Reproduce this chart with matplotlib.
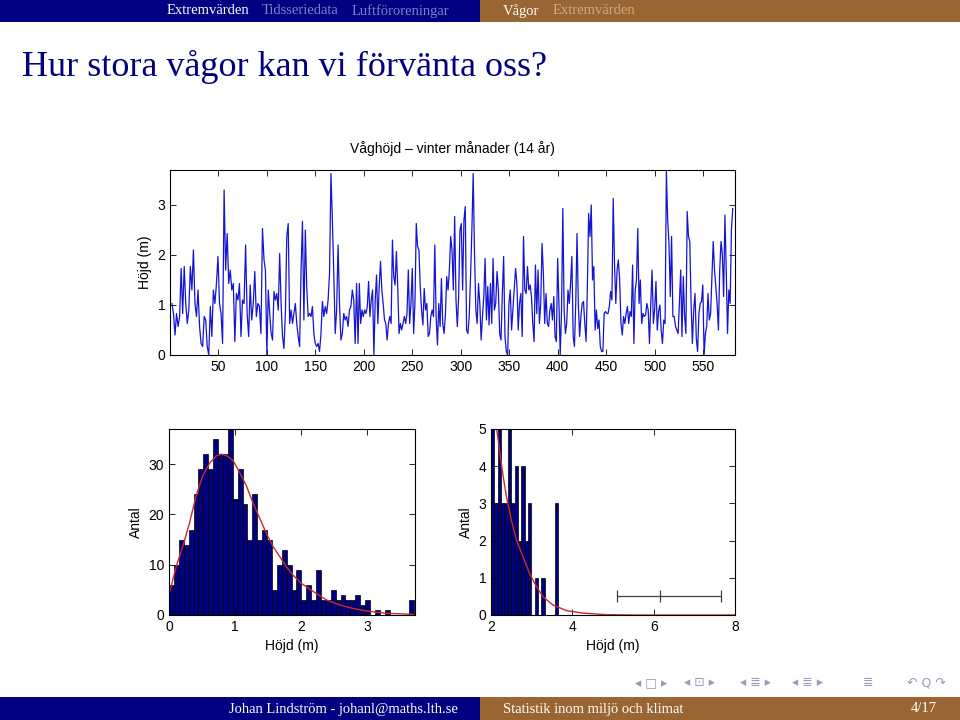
import numpy as np
import matplotlib
matplotlib.use('Agg')
import matplotlib.pyplot as plt
from matplotlib.patches import Rectangle

wave_part1 = [1.03, 0.83, 0.40, 0.83, 0.57, 0.77, 1.73, 0.83, 1.77, 1.03, 0.63, 0.90, 1.77, 1.30, 2.10,
              1.03, 0.77, 1.30, 0.57, 0.23, 0.17, 0.77, 0.70, 0.17, 0.00, 0.97, 0.37, 1.30, 1.03, 1.43,
              1.97, 1.03, 0.83, 0.23, 3.30, 1.70, 2.43, 1.43, 1.70, 1.30, 1.43, 0.27, 1.23, 1.10, 1.43,
              0.37, 1.10, 1.03, 2.20, 0.83, 0.37, 1.40, 0.70, 1.03, 1.67, 0.77, 1.03, 0.97, 0.43, 2.53]
wave_part2 = [1.90, 1.70, 0.00, 1.30, 0.83, 0.43, 0.30, 1.27, 1.10, 1.23, 0.90, 2.03, 1.03, 0.37, 0.13,
              0.83, 2.37, 2.63, 0.63, 0.90, 0.63, 0.83, 1.03, 0.63, 0.37, 0.17, 1.70, 2.67, 0.70, 2.50,
              1.37, 0.77, 0.83, 0.77, 0.97, 0.43, 0.23, 0.17, 0.23, 0.07, 0.43, 1.07, 0.77, 0.97, 0.83,
              1.10, 1.63, 3.63, 2.70, 1.63, 0.43, 0.90, 2.20, 1.03, 0.30, 0.43, 0.83, 0.70, 0.77, 0.57,
              0.90, 0.97, 1.30, 1.10, 0.23, 1.43]
wave_part3 = [0.23, 1.43, 0.63, 0.90, 0.77, 0.90, 0.83, 0.97, 1.47, 0.77, 1.10, 1.30, 0.00, 1.10, 1.60,
              0.63, 1.37, 1.87, 1.30, 1.03, 0.70, 0.63, 0.30, 0.63, 0.77, 0.63, 2.30, 1.57, 1.40, 2.07,
              1.37, 0.43, 0.63, 0.50, 0.63, 0.77, 0.63, 0.83, 1.70, 0.63, 1.03, 1.73, 0.43, 1.03, 2.63,
              2.17, 2.10, 1.37, 0.90, 0.60, 1.33, 0.90, 1.03, 0.37, 0.43, 0.77, 0.90, 0.77, 2.20, 0.77,
              0.20, 1.03, 0.57, 1.53, 0.63, 0.43, 0.80, 1.57, 1.30, 1.70, 2.37]
wave_part4 = [2.10, 1.30, 2.77, 1.10, 0.57, 1.17, 2.50, 2.63, 1.30, 2.70, 2.97, 0.50, 0.43, 0.77, 1.57,
              2.50, 3.63, 2.03, 0.90, 0.63, 1.43, 1.03, 0.30, 0.77, 1.17, 1.93, 0.70, 1.37, 0.60, 1.43,
              0.63, 1.93, 0.90, 1.03, 1.67, 1.30, 0.43, 0.30, 1.23, 1.97, 0.37, 0.07, 0.00, 1.03, 1.30,
              0.50, 0.90, 1.30, 1.73, 1.43, 0.50, 1.03, 1.23, 0.37, 2.37, 1.30, 1.23, 1.77, 1.30, 1.40,
              1.17, 0.63, 0.27, 1.80, 0.83, 1.70, 0.63, 1.03, 2.23, 1.63, 0.63]
wave_part5 = [1.23, 0.63, 0.57, 0.90, 1.03, 0.70, 1.17, 0.37, 0.27, 1.93, 1.03, 0.00, 0.90, 2.93, 0.90,
              0.43, 0.63, 1.30, 1.03, 1.43, 1.97, 0.37, 0.17, 1.03, 2.43, 1.03, 0.37, 0.77, 1.03, 1.07,
              0.63, 0.27, 1.37, 2.83, 2.37, 3.00, 1.50, 1.77, 0.50, 0.90, 0.53, 0.70, 0.17, 0.07, 0.07,
              0.83, 0.87, 0.83, 0.83, 0.97, 1.27, 1.10, 3.13, 1.83, 1.03, 1.70, 1.90, 1.50, 0.63, 0.40,
              0.77, 0.63, 0.83, 0.97, 0.63, 0.87, 0.77, 1.80, 0.23, 1.30, 1.50, 2.53]
wave_part6 = [1.03, 1.50, 0.63, 0.83, 0.77, 0.80, 1.03, 0.90, 0.23, 1.03, 1.70, 0.63, 0.90, 1.47, 0.50,
              0.87, 1.00, 0.50, 0.23, 0.70, 0.63, 3.67, 2.70, 2.23, 1.17, 2.37, 0.77, 0.77, 0.57, 0.50,
              0.43, 1.03, 1.70, 0.37, 1.57, 0.77, 0.43, 2.87, 2.37, 2.27, 1.03, 0.23, 0.90, 1.23, 0.33,
              0.07, 0.83, 1.03, 1.07, 1.40, 0.00, 0.43, 0.57, 1.23, 0.70, 0.83, 1.57, 2.27, 1.70, 1.37,
              1.03, 0.50, 1.70, 2.27, 2.03, 1.17, 2.80, 1.70, 0.43, 1.30, 1.03, 2.50, 2.93]
part_start = [2, 97, 194, 291, 388, 484]
part_end = [97, 194, 291, 388, 484, 582]

# histogram of all heights, 50 bins from 0 to 3.706 m
hist_counts = [6, 10, 15, 14, 17, 24, 29, 32, 29, 35, 32, 32, 37, 23, 29, 22, 15, 24, 15, 17,
               15, 5, 10, 13, 10, 5, 9, 3, 6, 3, 9, 3, 3, 5, 3, 4, 3, 3, 4, 2,
               3, 0, 1, 0, 1, 0, 0, 0, 0, 3]
hist_range = (0.0, 3.706)
fit_x = [0.0, 0.11, 0.21, 0.31, 0.41, 0.51, 0.62, 0.72, 0.79, 0.87, 0.97, 1.07, 1.17, 1.27,
         1.37, 1.47, 1.57, 1.67, 1.77, 1.87, 2.0, 2.18, 2.38, 2.58, 2.78, 3.04, 3.29, 3.69]
fit_y = [4.0, 9.7, 13.7, 18.3, 23.7, 27.7, 30.3, 31.7, 32.0, 31.7, 30.7, 28.3, 25.7, 22.3,
         19.3, 16.3, 13.7, 11.7, 9.7, 8.0, 6.3, 4.7, 3.0, 2.0, 1.3, 0.7, 0.33, 0.13]

# tail: heights above 2 m, 20 bins
tail_counts = [7, 3, 10, 3, 3, 6, 3, 4, 2, 4, 2, 3, 0, 1, 0, 1, 0, 0, 0, 3]
tail_range = (2.0, 3.655)
tail_fit_x = [2.08, 2.14, 2.22, 2.30, 2.38, 2.50, 2.63, 2.79, 2.95, 3.12, 3.28, 3.52, 3.85, 4.26, 4.83, 5.5, 8.0]
tail_fit_y = [5.6, 5.0, 4.35, 3.72, 3.18, 2.55, 2.0, 1.56, 1.11, 0.76, 0.49, 0.27, 0.12, 0.05, 0.01, 0.0, 0.0]
ci_low, ci_est, ci_high = 5.1, 6.15, 7.65
ci_level = 0.5

NAVY = '#000080'
BROWN = '#996633'
SERIF = ['Liberation Serif', 'DejaVu Serif']
plt.rcParams['font.family'] = ['Liberation Sans', 'DejaVu Sans']
plt.rcParams['font.size'] = 10

fig = plt.figure(figsize=(9.6, 7.2), dpi=100)

# beamer frame: header, title, footer
bg = fig.add_axes([0, 0, 1, 1], zorder=-5)
bg.set_xlim(0, 960)
bg.set_ylim(720, 0)
bg.axis('off')
bg.add_patch(Rectangle((0, 0), 480, 22, color=NAVY, lw=0))
bg.add_patch(Rectangle((480, 0), 480, 22, color=BROWN, lw=0))
bg.add_patch(Rectangle((0, 697), 480, 23, color=NAVY, lw=0))
bg.add_patch(Rectangle((480, 697), 480, 23, color=BROWN, lw=0))

hdr = dict(va='center', fontsize=10.5, family=SERIF)
bg.text(167, 11, 'Extremvärden', color='white', **hdr)
bg.text(262, 11, 'Tidsseriedata', color='#8080c8', **hdr)
bg.text(352, 11, 'Luftföroreningar', color='#8080c8', **hdr)
bg.text(503, 11, 'Vågor', color='white', **hdr)
bg.text(553, 11, 'Extremvärden', color='#cfa980', **hdr)

bg.text(22, 67, 'Hur stora vågor kan vi förvänta oss?', color=NAVY, fontsize=26,
        va='center', family=SERIF)

bg.text(458, 709, 'Johan Lindström - johanl@maths.lth.se', color='white', ha='right', **hdr)
bg.text(503, 709, 'Statistik inom miljö och klimat', color='white', **hdr)
bg.text(937, 709, '4/17', color='white', ha='right', **hdr)

nav = dict(va='center', ha='center', fontsize=9, color='#9a9ab8', family=['DejaVu Sans'])
for x, s in [(651, '◂ □ ▸'), (700, '◂ ⊡ ▸'), (755, '◂ ≣ ▸'), (808, '◂ ≣ ▸'), (868, '≣'), (926, '↶ Q ↷')]:
    bg.text(x, 683, s, **nav)

def matlab_box(ax):
    ax.tick_params(direction='in', top=True, right=True, length=4, width=0.6, labelsize=10)
    for s in ax.spines.values():
        s.set_linewidth(0.8)

# time series
ax1 = fig.add_axes([170 / 960, 365 / 720, 565 / 960, 185 / 720])
parts = [wave_part1, wave_part2, wave_part3, wave_part4, wave_part5, wave_part6]
days = np.concatenate([np.linspace(a, b, len(p), endpoint=False) for a, b, p in zip(part_start, part_end, parts)])
heights = np.concatenate(parts)
ax1.plot(days, heights, color='#1414d2', lw=0.9)
ax1.set_xlim(0, 583)
ax1.set_ylim(0, 3.7)
ax1.set_xticks(range(50, 551, 50))
ax1.set_yticks([0, 1, 2, 3])
ax1.set_ylabel('Höjd (m)')
ax1.set_title('Våghöjd – vinter månader (14 år)', fontsize=10, pad=12)
matlab_box(ax1)

# histogram
ax2 = fig.add_axes([169 / 960, 105 / 720, 246 / 960, 186 / 720])
edges = np.linspace(hist_range[0], hist_range[1], len(hist_counts) + 1)
ax2.bar(edges[:-1], hist_counts, width=np.diff(edges), align='edge', color=NAVY, edgecolor='black', lw=0.5)
ax2.plot(fit_x, fit_y, color='#cc2a2a', lw=1)
ax2.set_xlim(0, 3.72)
ax2.set_ylim(0, 37)
ax2.set_xticks([0, 1, 2, 3])
ax2.set_yticks([0, 10, 20, 30])
ax2.set_xlabel('Höjd (m)')
ax2.set_ylabel('Antal')
matlab_box(ax2)

# tail histogram with interval
ax3 = fig.add_axes([491 / 960, 105 / 720, 244 / 960, 186 / 720])
tedges = np.linspace(tail_range[0], tail_range[1], len(tail_counts) + 1)
ax3.bar(tedges[:-1], tail_counts, width=np.diff(tedges), align='edge', color=NAVY, edgecolor='black', lw=0.5)
ax3.plot(tail_fit_x, tail_fit_y, color='#cc2a2a', lw=1)
ax3.errorbar([ci_est], [ci_level], xerr=[[ci_est - ci_low], [ci_high - ci_est]], fmt='|',
             color='#404040', ms=9, capsize=4.5, lw=0.9, mew=0.9)
ax3.set_xlim(2, 8)
ax3.set_ylim(0, 5)
ax3.set_xticks([2, 4, 6, 8])
ax3.set_yticks([0, 1, 2, 3, 4, 5])
ax3.set_xlabel('Höjd (m)')
ax3.set_ylabel('Antal')
matlab_box(ax3)

fig.savefig('out.png', dpi=100)
